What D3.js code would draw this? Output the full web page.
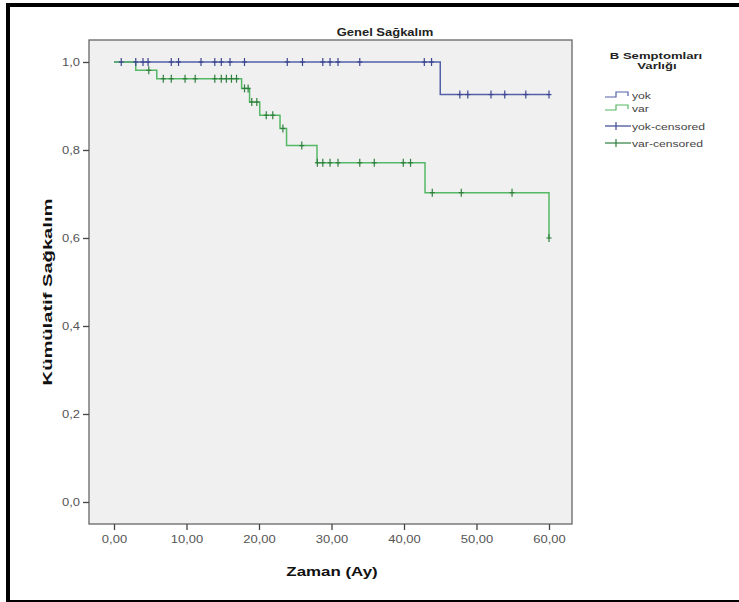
<!DOCTYPE html>
<html>
<head>
<meta charset="utf-8">
<script src="https://cdn.jsdelivr.net/npm/d3@7"></script>
<style>
  body { margin: 0; background: #fff; }
  svg { display: block; font-family: 'Liberation Sans', Arial, sans-serif; }
</style>
</head>
<body>
<svg width="739" height="602"></svg>
<script>
const X_TICKS = [0, 10, 20, 30, 40, 50, 60]
const Y_TICKS = [0, 0.2, 0.4, 0.6, 0.8, 1.0]

// Kaplan-Meier steps: time of event, survival after it
const YOK_TIMES = [0, 45.0]
const YOK_SURV = [1.0, 0.926]
const YOK_CENSORED = [1.0, 3.0, 4.0, 4.7, 7.9, 8.9, 12.0, 13.9, 14.8, 16.0, 18.0, 23.9, 26.0,
  28.8, 29.8, 30.9, 33.9, 42.8, 43.8, 47.7, 48.8, 52.0, 53.9, 56.8, 60.0]

const VAR_TIMES = [0, 3.0, 5.9, 17.6, 18.7, 20.1, 22.9, 23.8, 28.0, 42.9, 60.0]
const VAR_SURV = [1.0, 0.981, 0.962, 0.94, 0.909, 0.879, 0.849, 0.81, 0.771, 0.703, 0.60]
const VAR_CENSORED = [4.8, 6.8, 7.9, 9.8, 11.2, 13.9, 14.8, 15.5, 16.2, 16.9, 18.0, 18.5,
  19.0, 19.7, 21.0, 21.9, 23.3, 25.9, 28.05, 28.8, 29.8, 30.9, 33.9, 35.9, 39.9, 40.9,
  43.9, 47.9, 54.9, 60.0]

const LEGEND_TITLE = ['B Semptomları', 'Varlığı']
const LEGEND_LABELS = ['yok', 'var', 'yok-censored', 'var-censored']

const END_TIME = 60
const BLUE = '#5260a8'
const GREEN = '#55b865'
const BLUE_MARK = '#3c4690'
const GREEN_MARK = '#2f7f3e'
const STRETCH = 1.3 // the figure's text is drawn wide

const svg = d3.select('svg')

// outer frame of the pasted figure
svg.append('rect')
  .attr('x', 8).attr('y', 5).attr('width', 760).attr('height', 597)
  .attr('fill', 'none').attr('stroke', '#000').attr('stroke-width', 4)

const plot = { left: 89, top: 40, right: 572, bottom: 524 }

const x = d3.scaleLinear().domain([0, 60]).range([114, 549])
const y = d3.scaleLinear().domain([-0.05, 1.05]).range([plot.bottom, plot.top])

svg.append('rect')
  .attr('x', plot.left).attr('y', plot.top)
  .attr('width', plot.right - plot.left).attr('height', plot.bottom - plot.top)
  .attr('fill', '#f0f0f0').attr('stroke', '#666').attr('stroke-width', 1.3)

const fmtX = d => d.toFixed(2).replace('.', ',')
const fmtY = d => d.toFixed(1).replace('.', ',')

const xAxis = svg.append('g')
  .attr('transform', `translate(0,${plot.bottom})`)
  .call(d3.axisBottom(x).tickValues(X_TICKS).tickSize(6).tickPadding(6).tickFormat(fmtX))
const yAxis = svg.append('g')
  .attr('transform', `translate(${plot.left},0)`)
  .call(d3.axisLeft(y).tickValues(Y_TICKS).tickSize(6).tickPadding(3).tickFormat(fmtY))

;[xAxis, yAxis].forEach(a => {
  a.select('.domain').remove()
  a.selectAll('line').attr('stroke', '#444').attr('stroke-width', 1.3)
  a.selectAll('text').attr('fill', '#555').style('font-size', '10px')
    .style('font-family', "'Liberation Sans', Arial, sans-serif")
    .attr('transform', `scale(${STRETCH},1)`)
})
yAxis.selectAll('text').attr('x', -9 / STRETCH)

// step paths
function stepPath (times, surv) {
  let d = `M${x(times[0])},${y(surv[0])}`
  for (let i = 1; i < times.length; i++) {
    d += `H${x(times[i])}V${y(surv[i])}`
  }
  if (times[times.length - 1] < END_TIME) d += `H${x(END_TIME)}`
  return d
}

function survAt (times, surv, t) {
  let s = surv[0]
  times.forEach((ti, i) => { if (ti <= t) s = surv[i] })
  return s
}

const curves = [
  { times: YOK_TIMES, surv: YOK_SURV, cens: YOK_CENSORED, color: BLUE, mark: BLUE_MARK },
  { times: VAR_TIMES, surv: VAR_SURV, cens: VAR_CENSORED, color: GREEN, mark: GREEN_MARK }
]

curves.forEach(c => {
  svg.append('path')
    .attr('d', stepPath(c.times, c.surv))
    .attr('fill', 'none').attr('stroke', c.color).attr('stroke-width', 1.5)
})

curves.forEach(c => {
  const g = svg.append('g')
  c.cens.forEach(t => {
    const cx = x(t)
    const cy = y(survAt(c.times, c.surv, t))
    g.append('line').attr('x1', cx).attr('x2', cx).attr('y1', cy - 4).attr('y2', cy + 4)
      .attr('stroke', c.mark).attr('stroke-width', 1.2)
    g.append('line').attr('x1', cx - 2.5).attr('x2', cx + 2.5).attr('y1', cy).attr('y2', cy)
      .attr('stroke', c.mark).attr('stroke-width', 1.2)
  })
})

// wide text helper: anchor at (tx, ty), stretched horizontally
function wideText (tx, ty, str, size, opts = {}) {
  const t = svg.append('text')
    .attr('transform', `translate(${tx},${ty}) rotate(${opts.rotate || 0}) scale(${opts.sx || STRETCH},1)`)
    .attr('text-anchor', opts.anchor || 'middle')
    .style('font-size', size + 'px')
    .style('font-weight', opts.bold ? 'bold' : 'normal')
    .attr('fill', opts.fill || '#111')
    .text(str)
  return t
}

// titles
wideText(385, 36, 'Genel Sağkalım', 10, { bold: true, fill: '#222' })
wideText(332, 576, 'Zaman (Ay)', 13, { bold: true })
wideText(52, 292, 'Kümülatif Sağkalım', 13, { bold: true, rotate: -90, sx: 1.55 })

// legend
wideText(656, 58.5, LEGEND_TITLE[0], 9.5, { bold: true, fill: '#222', sx: 1.38 })
wideText(657, 68.5, LEGEND_TITLE[1], 9.5, { bold: true, fill: '#222', sx: 1.38 })

const legendColors = [BLUE, GREEN, BLUE_MARK, GREEN_MARK]
const legendY = [95, 108, 126, 143]

LEGEND_LABELS.forEach((lab, i) => {
  const ly = legendY[i]
  if (i < 2) {
    svg.append('path')
      .attr('d', `M605,${ly + 2}H616V${ly - 3}H628V${ly + 1}`)
      .attr('fill', 'none').attr('stroke', legendColors[i]).attr('stroke-width', 1.2)
  } else {
    svg.append('line').attr('x1', 605).attr('x2', 631).attr('y1', ly).attr('y2', ly)
      .attr('stroke', legendColors[i]).attr('stroke-width', 1.2)
    svg.append('line').attr('x1', 616).attr('x2', 616).attr('y1', ly - 4).attr('y2', ly + 4)
      .attr('stroke', legendColors[i]).attr('stroke-width', 1.2)
  }
  wideText(632, ly + 3.5, lab, 9.5, { anchor: 'start', fill: '#444', sx: 1.28 })
})
</script>
</body>
</html>
